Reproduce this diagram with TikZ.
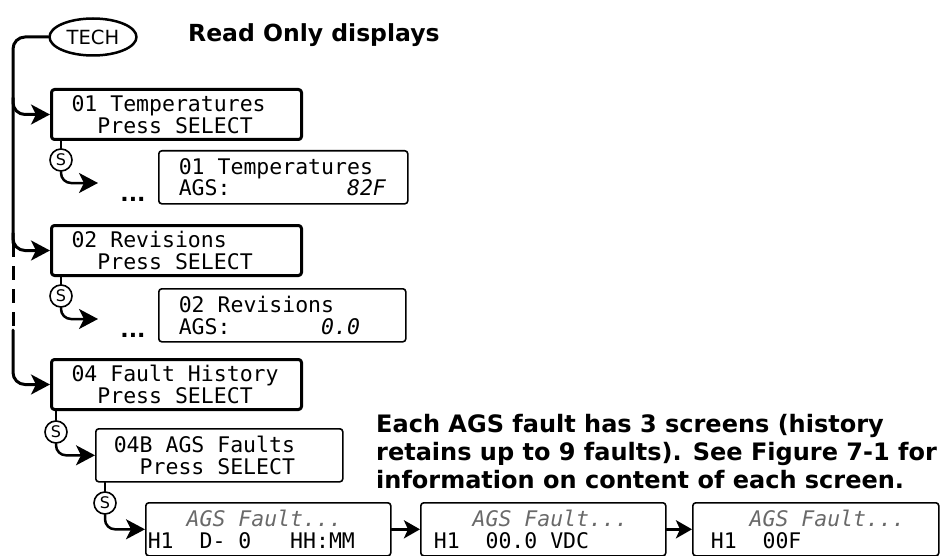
\documentclass[tikz,border=0pt]{standalone}
\usepackage{fontspec}
\setsansfont{DejaVu Sans}
\newfontfamily\lcdfont{DejaVu Sans Mono}[ItalicFont={DejaVu Sans Mono Oblique}]
\usepackage{xcolor}
\usetikzlibrary{arrows.meta,shapes.geometric}
\definecolor{faultgray}{RGB}{105,105,105}
\tikzset{
  every picture/.style={line join=round, line cap=round, >={Stealth[length=19pt,width=20pt,inset=5pt]}},
  rail/.style={line width=3pt},
  link/.style={line width=2.5pt},
  lcd/.style={draw, rounded corners=3pt, anchor=north west, align=left, inner ysep=0pt,
    font=\lcdfont\fontsize{21.5}{21.5}\selectfont},
  selbox/.style={lcd, line width=3pt, text width=210pt, inner xsep=20pt, minimum height=50pt},
  valbox/.style={lcd, line width=1.6pt, minimum height=53pt},
  techoval/.style={ellipse, draw, line width=2.5pt, minimum width=87pt, minimum height=37pt,
    inner sep=0pt, font=\sffamily\fontsize{19.5}{22}\selectfont},
  selkey/.style={circle, draw, line width=1.6pt, minimum size=22pt, inner sep=0pt,
    fill=white, font=\sffamily\fontsize{16}{16}\selectfont},
  note/.style={inner sep=0pt, font=\sffamily\bfseries\fontsize{23.5}{28}\selectfont},
  more/.style={inner sep=0pt, anchor=base, font=\sffamily\bfseries\fontsize{22}{22}\selectfont},
}
% one LCD character cell
\newcommand{\sk}{\hphantom{0}}
\newcommand{\fltline}{\sk\sk\sk\textcolor{faultgray}{\textit{AGS\sk Fault...}}}

\begin{document}
\begin{tikzpicture}[x=1pt, y=-1pt]
\useasboundingbox (0,0) rectangle (941,556);
% heading
\node[techoval] (tech) at (93,37) {TECH};
\node[note, anchor=base west] (readonly) at (188,42) {Read Only displays};
% menu screens
\node[selbox] (temp) at (50,88) {01\sk Temperatures\\\sk\sk Press\sk SELECT};
\node[valbox, text width=209pt, inner xsep=20pt] (tempval) at (158,150)
  {01\sk Temperatures\\AGS:\sk\sk\sk\sk\sk\sk\sk\sk\sk\textit{82F}};
\node[more] (more1) at (133,201) {...};
\node[selbox] (rev) at (50,224) {02\sk Revisions\\\sk\sk Press\sk SELECT};
\node[valbox, text width=207pt, inner xsep=20pt] (revval) at (158,288)
  {02\sk Revisions\\AGS:\sk\sk\sk\sk\sk\sk\sk\textit{0.0}};
\node[more] (more2) at (133,337) {...};
\node[selbox] (hist) at (50,358) {04\sk Fault\sk History\\\sk\sk Press\sk SELECT};
\node[valbox, text width=211pt, inner xsep=18pt] (agssel) at (95,428)
  {04B\sk AGS\sk Faults\\\sk\sk Press\sk SELECT};
% fault screens
\node[valbox, text width=241pt, inner xsep=2pt] (fltA) at (145,502)
  {\fltline\\H1\sk\sk D-\sk 0\sk\sk\sk HH:MM};
\node[valbox, text width=219pt, inner xsep=13pt] (fltB) at (420,502)
  {\fltline\\H1\sk\sk 00.0\sk VDC};
\node[valbox, text width=210pt, inner xsep=18pt] (fltC) at (692,502)
  {\fltline\\H1\sk\sk 00F};
\node[note, anchor=north west, align=left, font=\sffamily\bfseries\fontsize{24}{28}\selectfont] (info) at (376,414)
  {Each AGS fault has 3 screens (history\\retains up to 9 faults). See Figure 7-1 for\\information on content of each screen.};
% SELECT keys
\node[selkey] (s1) at (61,160) {S};
\node[selkey] (s2) at (61,296) {S};
\node[selkey] (s3) at (56,432) {S};
\node[selkey] (s4) at (105,503) {S};
\coordinate (tip1) at (98,183);
\coordinate (tip2) at (98,319);
% main rail
\coordinate (br1) at (13,98);
\coordinate (br2) at (13,233);
\coordinate (dashtop) at (13,243);
\coordinate (dashbot) at (13,330);
\draw[rail, rounded corners=12pt] (tech.west) -| (dashtop);
\draw[rail, line cap=butt, dash pattern=on 14pt off 9pt] (dashtop) -- (dashbot);
\draw[rail, ->, rounded corners=12pt] (dashbot) |- (hist.west);
\draw[rail, ->, rounded corners=12pt] (br1) |- (temp.west);
\draw[rail, ->, rounded corners=12pt] (br2) |- (rev.west);
% select branches
\draw[link] (s1.north) -- (s1.north |- temp.south);
\draw[link, ->, rounded corners=10pt] (s1.south) |- (tip1);
\draw[link] (s2.north) -- (s2.north |- rev.south);
\draw[link, ->, rounded corners=10pt] (s2.south) |- (tip2);
\draw[link] (s3.north) -- (s3.north |- hist.south);
\draw[link, ->, rounded corners=10pt] (s3.south) |- (agssel.west);
\draw[link] (s4.north) -- (s4.north |- agssel.south);
\draw[link, ->, rounded corners=10pt] (s4.south) |- (fltA.west);
% fault screen order
\draw[rail, -{Stealth[length=16pt,width=18pt,inset=4pt]}] (fltA) -- (fltB);
\draw[rail, -{Stealth[length=16pt,width=18pt,inset=4pt]}] (fltB) -- (fltC);
\end{tikzpicture}
\end{document}
